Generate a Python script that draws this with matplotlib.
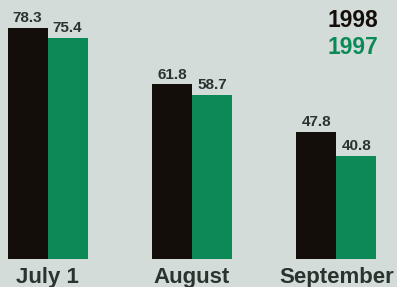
import matplotlib
matplotlib.use("Agg")
import matplotlib.pyplot as plt
import numpy as np

categories = ["July 1", "August", "September"]
values_1998 = [78.3, 61.8, 47.8]
values_1997 = [75.4, 58.7, 40.8]
series_names = ["1998", "1997"]

bg = "#d4dcd9"
c98 = "#140e0b"
c97 = "#0b8a57"
txt = "#2b332f"

fig = plt.figure(figsize=(3.97, 2.87), dpi=100, facecolor=bg)
ax = fig.add_axes([0, 28/287, 1, 259/287])
ax.set_facecolor(bg)

x = np.arange(len(categories))
w = 0.277
b1 = ax.bar(x - w/2, values_1998, w, color=c98)
b2 = ax.bar(x + w/2, values_1997, w, color=c97)

font = "Liberation Sans"
for rects, vals in ((b1, values_1998), (b2, values_1997)):
    for r, v in zip(rects, vals):
        ax.annotate(f"{v:.1f}", (r.get_x() + r.get_width()/2, v),
                    xytext=(0, 2), textcoords="offset points",
                    ha="center", va="bottom", fontsize=11, fontweight="bold",
                    color=txt, family=font)

ax.set_xlim(-0.329, 2.419)
ax.set_ylim(10.6, 86.5)
ax.axis("off")

for xi, lab in zip(x, categories):
    fig.text(ax.transData.transform((xi, 0))[0] / 397, 4/287, lab,
             ha="center", va="baseline", fontsize=16, fontweight="bold",
             color=txt, family=font)

fig.text(378/397, 1 - 9/287, series_names[0], ha="right", va="top",
         fontsize=16.5, fontweight="bold", color=c98, family=font)
fig.text(378/397, 1 - 36/287, series_names[1], ha="right", va="top",
         fontsize=16.5, fontweight="bold", color=c97, family=font)

fig.savefig("out.png", dpi=100, facecolor=bg)
